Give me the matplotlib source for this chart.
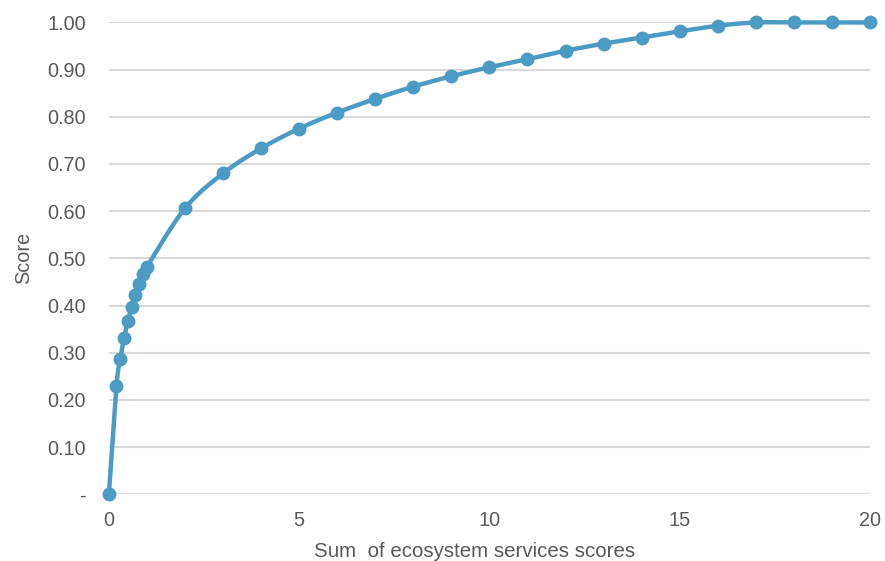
import numpy as np
import matplotlib
matplotlib.use("Agg")
import matplotlib.pyplot as plt

# data
x_vals = [0, 0.2, 0.3, 0.4, 0.5, 0.6, 0.7, 0.8, 0.9, 1.0,
          2, 3, 4, 5, 6, 7, 8, 9, 10, 11, 12, 13, 14, 15, 16, 17, 18, 19, 20]
scores = [0.0, 0.229, 0.287, 0.331, 0.367, 0.396, 0.422, 0.445, 0.466, 0.482,
          0.606, 0.680, 0.733, 0.775, 0.809, 0.838, 0.864, 0.886, 0.905, 0.922,
          0.940, 0.955, 0.968, 0.981, 0.993, 1.0, 1.0, 1.0, 1.0]
y_ticks = [0.0, 0.1, 0.2, 0.3, 0.4, 0.5, 0.6, 0.7, 0.8, 0.9, 1.0]
y_labels = ["-", "0.10", "0.20", "0.30", "0.40", "0.50", "0.60", "0.70", "0.80", "0.90", "1.00"]
x_ticks = [0, 5, 10, 15, 20]

blue = "#4B9BC5"
grey_txt = "#595959"

plt.rcParams['font.family'] = ['Liberation Sans', 'DejaVu Sans']


def smooth_line(xs, ys, n=20):
    # Catmull-Rom style smoothing like a spreadsheet "smoothed line"
    xs = np.asarray(xs, float)
    ys = np.asarray(ys, float)
    px = np.concatenate([[xs[0]], xs, [xs[-1]]])
    py = np.concatenate([[ys[0]], ys, [ys[-1]]])
    out_x, out_y = [], []
    t = np.linspace(0, 1, n, endpoint=False)
    for i in range(1, len(px) - 2):
        p0, p1, p2, p3 = (np.array([px[j], py[j]]) for j in (i - 1, i, i + 1, i + 2))
        c1 = p1 + (p2 - p0) / 6
        c2 = p2 - (p3 - p1) / 6
        for tt in t:
            b = ((1 - tt) ** 3) * p1 + 3 * ((1 - tt) ** 2) * tt * c1 + 3 * (1 - tt) * tt ** 2 * c2 + tt ** 3 * p2
            out_x.append(b[0])
            out_y.append(b[1])
    out_x.append(xs[-1])
    out_y.append(ys[-1])
    return np.array(out_x), np.array(out_y)


fig = plt.figure(figsize=(8.85, 5.61), dpi=100)
ax = fig.add_axes([0.123, 0.119, 0.860, 0.841])

sx, sy = smooth_line(x_vals, scores)
ax.plot(sx, sy, color=blue, lw=3.2, solid_capstyle='round', clip_on=False, zorder=3)
ax.plot(x_vals, scores, 'o', color=blue, ms=9, clip_on=False, zorder=4)

ax.set_xlim(0, 20)
ax.set_ylim(0, 1.0)
ax.set_xticks(x_ticks)
ax.set_yticks(y_ticks)
ax.set_yticklabels(y_labels)
ax.yaxis.grid(True, color="#D9D9D9", lw=1.5)
ax.set_axisbelow(True)
for s in ax.spines.values():
    s.set_visible(False)
ax.tick_params(axis='both', length=0, labelsize=14.3, colors=grey_txt)
ax.tick_params(axis='y', pad=16.5)
ax.tick_params(axis='x', pad=12)

ax.set_xlabel("Sum  of ecosystem services scores", fontsize=14.8, color=grey_txt, labelpad=9)
ax.xaxis.label.set_x(0.48)
ax.set_ylabel("Score", fontsize=14.3, color=grey_txt, labelpad=10.5)

fig.savefig("out.png", dpi=100)
